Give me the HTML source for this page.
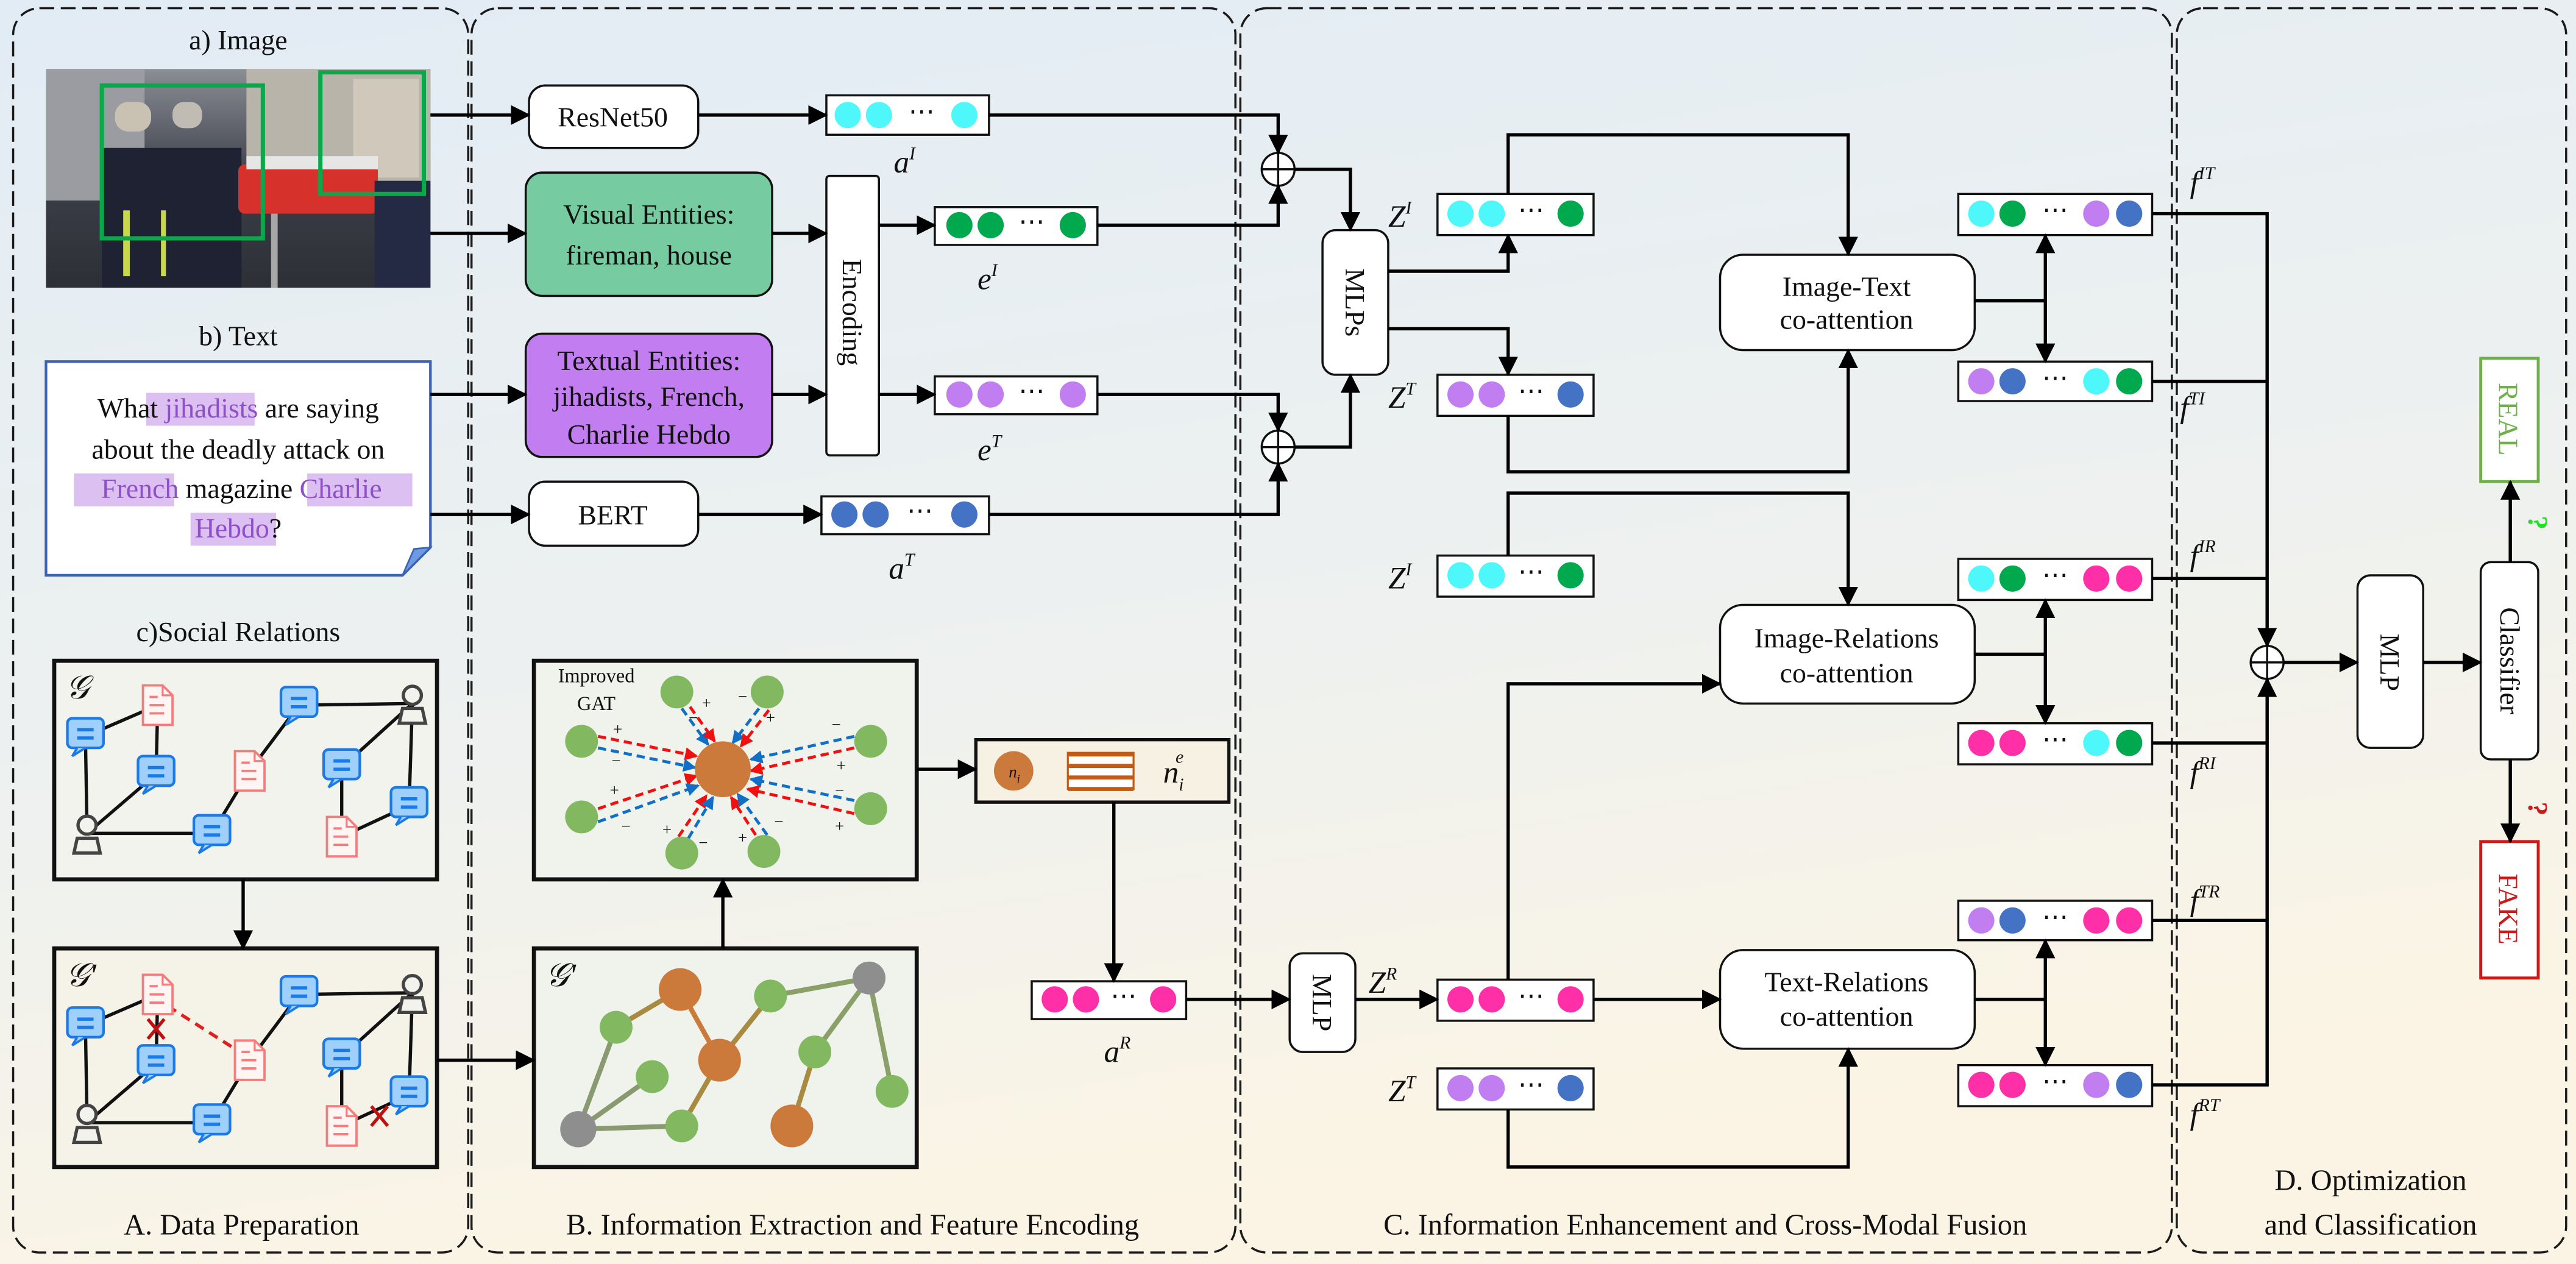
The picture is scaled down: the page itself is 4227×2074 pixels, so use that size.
<!DOCTYPE html>
<html><head><meta charset="utf-8">
<style>
html,body{margin:0;padding:0;background:#fff;}
svg{display:block;font-family:"Liberation Serif",serif;}
text{font-family:"Liberation Serif",serif;fill:#111;}
</style></head>
<body>
<svg width="4227" height="2074" viewBox="0 0 1568 769" preserveAspectRatio="none" xmlns="http://www.w3.org/2000/svg" font-family="Liberation Serif, serif">
<defs>
<linearGradient id="bg" x1="0" y1="0" x2="0.3" y2="1">
<stop offset="0" stop-color="#e2ecf5"/><stop offset="0.6" stop-color="#eef1ef"/><stop offset="1" stop-color="#fbf4e4"/></linearGradient>
<linearGradient id="ph" x1="0" y1="0" x2="0" y2="1">
<stop offset="0" stop-color="#8b8e95"/><stop offset="0.5" stop-color="#3c3f49"/><stop offset="1" stop-color="#2d2f36"/></linearGradient>
<marker id="ah" markerUnits="userSpaceOnUse" markerWidth="12" markerHeight="12" refX="11" refY="6" orient="auto"><path d="M0,0 L12,6 L0,12 z" fill="#000"/></marker>
<marker id="ar" markerUnits="userSpaceOnUse" markerWidth="8" markerHeight="8" refX="7" refY="4" orient="auto"><path d="M0,0 L8,4 L0,8 z" fill="#f01010"/></marker>
<marker id="ab" markerUnits="userSpaceOnUse" markerWidth="8" markerHeight="8" refX="7" refY="4" orient="auto"><path d="M0,0 L8,4 L0,8 z" fill="#1070c8"/></marker>
<symbol id="bub" viewBox="-13 -12 26 26" width="26" height="26" overflow="visible">
<rect x="-11" y="-10" width="22" height="18" rx="3" fill="#9fd0fb" stroke="#1a7ae8" stroke-width="1.6"/>
<line x1="-5" y1="-3" x2="5" y2="-3" stroke="#1a7ae8" stroke-width="2"/>
<line x1="-5" y1="2" x2="5" y2="2" stroke="#1a7ae8" stroke-width="2"/>
<path d="M-5,8 L-8,13 L0,8" fill="#9fd0fb" stroke="#1a7ae8" stroke-width="1.4"/>
</symbol>
<symbol id="doc" viewBox="-13 -13 26 26" width="26" height="26" overflow="visible">
<path d="M-9,-12 H3 L9,-6 V12 H-9 Z" fill="#fff6f4" stroke="#f47c7c" stroke-width="1.4"/>
<path d="M3,-12 V-6 H9" fill="none" stroke="#f47c7c" stroke-width="1.2"/>
<line x1="-5" y1="-5" x2="0" y2="-5" stroke="#f47c7c" stroke-width="1.4"/>
<line x1="-5" y1="0" x2="4" y2="0" stroke="#f47c7c" stroke-width="1.4"/>
<line x1="-5" y1="5" x2="4" y2="5" stroke="#f47c7c" stroke-width="1.4"/>
</symbol>
<symbol id="per" viewBox="-13 -13 26 26" width="26" height="26" overflow="visible">
<circle cx="0" cy="-5" r="5.5" fill="#f3f3ee" stroke="#444" stroke-width="2"/>
<path d="M-8,12 L-6,3 H6 L8,12 Z" fill="#f3f3ee" stroke="#444" stroke-width="2"/>
</symbol>
</defs>

<rect x="0" y="0" width="1568" height="769" fill="url(#bg)"/>

<g fill="none" stroke="#1a1a1a" stroke-width="1.3" stroke-dasharray="9 4">
<rect x="8" y="5" width="277" height="757" rx="16"/>
<rect x="287" y="5" width="465" height="757" rx="16"/>
<rect x="755" y="5" width="567" height="757" rx="16"/>
<rect x="1325" y="5" width="237" height="757" rx="16"/>
</g>
<g font-size="18" text-anchor="middle">
<text x="147" y="751">A. Data Preparation</text>
<text x="519" y="751">B. Information Extraction and Feature Encoding</text>
<text x="1038" y="751">C. Information Enhancement and Cross-Modal Fusion</text>
<text x="1443" y="724">D. Optimization</text>
<text x="1443" y="751">and Classification</text>
</g>

<text x="145" y="30" font-size="17" text-anchor="middle">a) Image</text>
<rect x="28" y="42" width="234" height="133" fill="url(#ph)"/>
<rect x="28" y="42" width="60" height="80" fill="#9a9ca2"/>
<rect x="150" y="42" width="112" height="70" fill="#b8b4aa"/>
<rect x="215" y="48" width="40" height="60" fill="#cfc8bb"/>
<rect x="62" y="90" width="85" height="85" fill="#1f2233"/>
<rect x="70" y="62" width="22" height="18" rx="8" fill="#c9c2b3"/>
<rect x="105" y="62" width="18" height="16" rx="7" fill="#c0bcb3"/>
<rect x="145" y="100" width="85" height="30" rx="4" fill="#d7312c"/>
<rect x="150" y="95" width="80" height="8" fill="#e6e6e6"/>
<rect x="228" y="110" width="34" height="65" fill="#242a44"/>
<rect x="75" y="128" width="4" height="40" fill="#c8d84a"/>
<rect x="98" y="128" width="3" height="40" fill="#c8d84a"/>
<rect x="165" y="130" width="4" height="45" fill="#a7a7a7"/>
<rect x="62" y="52" width="98" height="93" fill="none" stroke="#0aa84a" stroke-width="2.6"/>
<rect x="195" y="44" width="63" height="74" fill="none" stroke="#0aa84a" stroke-width="2.6"/>

<text x="145" y="210" font-size="17" text-anchor="middle">b) Text</text>
<path d="M28,220 H262 V333 L245,350 H28 Z" fill="#fff" stroke="#3a62b5" stroke-width="1.6"/>
<path d="M245,350 L262,333 L252,334 Z" fill="#6e9be0" stroke="#3a62b5" stroke-width="1"/>
<g fill="#dcc0f2">
<rect x="89" y="239" width="66" height="20"/>
<rect x="45" y="288" width="61" height="20"/>
<rect x="187" y="288" width="64" height="20"/>
<rect x="116" y="312" width="52" height="20"/>
</g>
<g font-size="17" text-anchor="middle">
<text x="145" y="254">What <tspan style="fill:#8e50c8">jihadists</tspan> are saying</text>
<text x="145" y="279">about the deadly attack on</text>
<text x="147" y="303"><tspan style="fill:#8e50c8">French</tspan> magazine <tspan style="fill:#8e50c8">Charlie</tspan></text>
<text x="145" y="327"><tspan style="fill:#8e50c8">Hebdo</tspan>?</text>
</g>

<text x="145" y="390" font-size="17" text-anchor="middle">c)Social Relations</text>
<rect x="33" y="402" width="233" height="133" fill="#f2f3ed" stroke="#111" stroke-width="2.5"/>
<rect x="33" y="577" width="233" height="133" fill="#f5f2e8" stroke="#111" stroke-width="2.5"/>
<g stroke="#111" stroke-width="2">
<line x1="52" y1="448" x2="96" y2="429"/><line x1="96" y1="429" x2="95" y2="471"/>
<line x1="52" y1="448" x2="53" y2="507"/><line x1="53" y1="507" x2="95" y2="471"/>
<line x1="53" y1="507" x2="129" y2="507"/><line x1="129" y1="507" x2="152" y2="469"/>
<line x1="152" y1="469" x2="182" y2="429"/><line x1="182" y1="429" x2="251" y2="428"/>
<line x1="251" y1="428" x2="208" y2="467"/><line x1="251" y1="428" x2="249" y2="490"/>
<line x1="208" y1="467" x2="208" y2="509"/><line x1="208" y1="509" x2="249" y2="490"/>
</g>
<g>
<use href="#doc" x="83" y="416"/><use href="#bub" x="39" y="435"/><use href="#bub" x="82" y="458"/>
<use href="#per" x="40" y="494"/><use href="#bub" x="116" y="494"/><use href="#doc" x="139" y="456"/>
<use href="#bub" x="169" y="416"/><use href="#per" x="238" y="415"/><use href="#bub" x="195" y="454"/>
<use href="#bub" x="236" y="477"/><use href="#doc" x="195" y="496"/>
</g>
<text x="40" y="425" font-size="20" font-style="italic">𝒢</text>
<g stroke="#111" stroke-width="2">
<line x1="52" y1="624" x2="96" y2="605"/><line x1="96" y1="605" x2="95" y2="647"/>
<line x1="52" y1="624" x2="53" y2="683"/><line x1="53" y1="683" x2="95" y2="647"/>
<line x1="53" y1="683" x2="129" y2="683"/><line x1="129" y1="683" x2="152" y2="645"/>
<line x1="152" y1="645" x2="182" y2="605"/><line x1="182" y1="605" x2="251" y2="604"/>
<line x1="251" y1="604" x2="208" y2="643"/><line x1="251" y1="604" x2="249" y2="666"/>
<line x1="208" y1="643" x2="208" y2="685"/><line x1="208" y1="685" x2="249" y2="666"/>
</g>
<line x1="102" y1="612" x2="146" y2="640" stroke="#e02020" stroke-width="2" stroke-dasharray="6 4"/>
<g>
<use href="#doc" x="83" y="592"/><use href="#bub" x="39" y="611"/><use href="#bub" x="82" y="634"/>
<use href="#per" x="40" y="670"/><use href="#bub" x="116" y="670"/><use href="#doc" x="139" y="632"/>
<use href="#bub" x="169" y="592"/><use href="#per" x="238" y="591"/><use href="#bub" x="195" y="630"/>
<use href="#bub" x="236" y="653"/><use href="#doc" x="195" y="672"/>
</g>
<g stroke="#c01010" stroke-width="2">
<line x1="90" y1="620" x2="100" y2="632"/><line x1="100" y1="620" x2="90" y2="632"/>
<line x1="226" y1="673" x2="236" y2="685"/><line x1="236" y1="673" x2="226" y2="685"/>
</g>
<text x="40" y="600" font-size="20" font-style="italic">𝒢'</text>

<g stroke="#111" stroke-width="1.3">
<rect x="322" y="52" width="103" height="38" rx="10" fill="#fff"/>
<rect x="320" y="105" width="150" height="75" rx="10" fill="#76cba0"/>
<rect x="503" y="107" width="32" height="170" rx="2" fill="#fff"/>
<rect x="320" y="203" width="150" height="75" rx="10" fill="#c27ef0"/>
<rect x="322" y="293" width="103" height="39" rx="10" fill="#fff"/>
</g>
<g font-size="17" text-anchor="middle">
<text x="373" y="77">ResNet50</text>
<text x="395" y="136">Visual Entities:</text>
<text x="395" y="161">fireman, house</text>
<text x="395" y="225">Textual Entities:</text>
<text x="395" y="247">jihadists, French,</text>
<text x="395" y="270">Charlie Hebdo</text>
<text x="373" y="319">BERT</text>
<text transform="translate(513,190) rotate(90)">Encoding</text>
</g>

<rect x="325" y="402" width="233" height="133" fill="#f0f2ec" stroke="#111" stroke-width="2.5"/>
<text x="363" y="415" font-size="12" text-anchor="middle">Improved</text>
<text x="363" y="432" font-size="12" text-anchor="middle">GAT</text>
<g stroke-width="1.8" stroke-dasharray="5 3" fill="none">
<line x1="364" y1="448" x2="424" y2="460" stroke="#f01010" marker-end="url(#ar)"/>
<line x1="364" y1="455" x2="423" y2="467" stroke="#1070c8" marker-end="url(#ab)"/>
<line x1="520" y1="448" x2="457" y2="462" stroke="#1070c8" marker-end="url(#ab)"/>
<line x1="520" y1="455" x2="457" y2="469" stroke="#f01010" marker-end="url(#ar)"/>
<line x1="364" y1="492" x2="424" y2="472" stroke="#f01010" marker-end="url(#ar)"/>
<line x1="364" y1="500" x2="425" y2="478" stroke="#1070c8" marker-end="url(#ab)"/>
<line x1="520" y1="487" x2="457" y2="474" stroke="#1070c8" marker-end="url(#ab)"/>
<line x1="520" y1="495" x2="455" y2="480" stroke="#f01010" marker-end="url(#ar)"/>
<line x1="415" y1="431" x2="431" y2="453" stroke="#1070c8" marker-end="url(#ab)"/>
<line x1="420" y1="430" x2="435" y2="451" stroke="#f01010" marker-end="url(#ar)"/>
<line x1="462" y1="431" x2="446" y2="452" stroke="#1070c8" marker-end="url(#ab)"/>
<line x1="468" y1="432" x2="451" y2="454" stroke="#f01010" marker-end="url(#ar)"/>
<line x1="413" y1="509" x2="430" y2="484" stroke="#f01010" marker-end="url(#ar)"/>
<line x1="419" y1="510" x2="434" y2="485" stroke="#1070c8" marker-end="url(#ab)"/>
<line x1="460" y1="508" x2="445" y2="485" stroke="#f01010" marker-end="url(#ar)"/>
<line x1="467" y1="508" x2="449" y2="483" stroke="#1070c8" marker-end="url(#ab)"/>
</g>
<g fill="#82b860">
<circle cx="412" cy="421" r="10"/><circle cx="467" cy="421" r="10"/>
<circle cx="354" cy="451" r="10"/><circle cx="530" cy="451" r="10"/>
<circle cx="354" cy="497" r="10"/><circle cx="530" cy="492" r="10"/>
<circle cx="415" cy="519" r="10"/><circle cx="465" cy="518" r="10"/>
</g>
<circle cx="440" cy="468" r="17" fill="#cc7a3c"/>
<g font-size="10" text-anchor="middle">
<text x="376" y="447">+</text><text x="375" y="466">−</text>
<text x="509" y="444">−</text><text x="512" y="469">+</text>
<text x="374" y="484">+</text><text x="381" y="506">−</text>
<text x="511" y="484">−</text><text x="511" y="506">+</text>
<text x="430" y="431">+</text><text x="422" y="440">−</text>
<text x="452" y="427">−</text><text x="469" y="440">+</text>
<text x="406" y="508">+</text><text x="428" y="516">−</text>
<text x="452" y="513">+</text><text x="474" y="503">−</text>
</g>

<rect x="325" y="577" width="233" height="133" fill="#f0f2ec" stroke="#111" stroke-width="2.5"/>
<text x="332" y="600" font-size="20" font-style="italic">𝒢'</text>
<g stroke-width="3">
<line x1="352" y1="687" x2="375" y2="625" stroke="#8a9a70"/>
<line x1="352" y1="687" x2="397" y2="655" stroke="#8a9a70"/>
<line x1="352" y1="687" x2="415" y2="685" stroke="#8a9a70"/>
<line x1="375" y1="625" x2="414" y2="602" stroke="#a88a40"/>
<line x1="414" y1="602" x2="438" y2="645" stroke="#cc7a3c"/>
<line x1="438" y1="645" x2="469" y2="606" stroke="#a88a40"/>
<line x1="469" y1="606" x2="529" y2="595" stroke="#8aa068"/>
<line x1="438" y1="645" x2="415" y2="685" stroke="#a88a40"/>
<line x1="529" y1="595" x2="496" y2="640" stroke="#8aa068"/>
<line x1="496" y1="640" x2="482" y2="685" stroke="#a88a40"/>
<line x1="529" y1="595" x2="543" y2="664" stroke="#8aa068"/>
</g>
<g fill="#82b860">
<circle cx="375" cy="625" r="10"/><circle cx="469" cy="606" r="10"/><circle cx="496" cy="640" r="10"/>
<circle cx="397" cy="655" r="10"/><circle cx="543" cy="664" r="10"/><circle cx="415" cy="685" r="10"/>
</g>
<g fill="#cc7a3c"><circle cx="414" cy="602" r="13"/><circle cx="438" cy="645" r="13"/><circle cx="482" cy="685" r="13"/></g>
<g fill="#8e8e8e"><circle cx="529" cy="595" r="10"/><circle cx="352" cy="687" r="11"/></g>

<rect x="594" y="450" width="154" height="38" fill="#f7f1e4" stroke="#111" stroke-width="2"/>
<circle cx="617" cy="469" r="12" fill="#cc7a3c"/>
<text x="614" y="473" font-size="10" font-style="italic">n<tspan font-size="7" dy="3">i</tspan></text>
<rect x="650" y="458" width="40" height="22" fill="#fff" stroke="#c25b14" stroke-width="1.2"/>
<g stroke="#c25b14" stroke-width="2.5"><line x1="650" y1="459" x2="690" y2="459"/><line x1="650" y1="466" x2="690" y2="466"/><line x1="650" y1="473" x2="690" y2="473"/><line x1="650" y1="480" x2="690" y2="480"/></g>
<text x="708" y="476" font-size="19" font-style="italic">n<tspan font-size="11" dy="5">i</tspan><tspan font-size="11" dx="-5" dy="-17">e</tspan></text>

<g stroke="#111" stroke-width="1.3" fill="#fff">
<rect x="503" y="58" width="99" height="24"/>
<rect x="569" y="126" width="99" height="23"/>
<rect x="569" y="229" width="99" height="23"/>
<rect x="500" y="302" width="102" height="23"/>
<rect x="628" y="597" width="94" height="23"/>
<rect x="875" y="118" width="95" height="25"/>
<rect x="875" y="228" width="95" height="25"/>
<rect x="875" y="338" width="95" height="25"/>
<rect x="875" y="596" width="95" height="25"/>
<rect x="875" y="650" width="95" height="25"/>
<rect x="1192" y="118" width="118" height="25"/>
<rect x="1192" y="220" width="118" height="24"/>
<rect x="1192" y="340" width="118" height="25"/>
<rect x="1192" y="440" width="118" height="25"/>
<rect x="1192" y="548" width="118" height="24"/>
<rect x="1192" y="648" width="118" height="25"/>
</g>
<g>
<circle cx="516" cy="70" r="8" fill="#4ef8fa"/><circle cx="535" cy="70" r="8" fill="#4ef8fa"/><circle cx="587" cy="70" r="8" fill="#4ef8fa"/>
<circle cx="584" cy="137" r="8" fill="#00a84e"/><circle cx="603" cy="137" r="8" fill="#00a84e"/><circle cx="653" cy="137" r="8" fill="#00a84e"/>
<circle cx="584" cy="240" r="8" fill="#c07ef0"/><circle cx="603" cy="240" r="8" fill="#c07ef0"/><circle cx="653" cy="240" r="8" fill="#c07ef0"/>
<circle cx="514" cy="313" r="8" fill="#4472c4"/><circle cx="533" cy="313" r="8" fill="#4472c4"/><circle cx="587" cy="313" r="8" fill="#4472c4"/>
<circle cx="642" cy="608" r="8" fill="#ff2fa8"/><circle cx="661" cy="608" r="8" fill="#ff2fa8"/><circle cx="708" cy="608" r="8" fill="#ff2fa8"/>
<circle cx="889" cy="130" r="8" fill="#4ef8fa"/><circle cx="908" cy="130" r="8" fill="#4ef8fa"/><circle cx="956" cy="130" r="8" fill="#00a84e"/>
<circle cx="889" cy="240" r="8" fill="#c07ef0"/><circle cx="908" cy="240" r="8" fill="#c07ef0"/><circle cx="956" cy="240" r="8" fill="#4472c4"/>
<circle cx="889" cy="350" r="8" fill="#4ef8fa"/><circle cx="908" cy="350" r="8" fill="#4ef8fa"/><circle cx="956" cy="350" r="8" fill="#00a84e"/>
<circle cx="889" cy="608" r="8" fill="#ff2fa8"/><circle cx="908" cy="608" r="8" fill="#ff2fa8"/><circle cx="956" cy="608" r="8" fill="#ff2fa8"/>
<circle cx="889" cy="662" r="8" fill="#c07ef0"/><circle cx="908" cy="662" r="8" fill="#c07ef0"/><circle cx="956" cy="662" r="8" fill="#4472c4"/>
<circle cx="1206" cy="130" r="8" fill="#4ef8fa"/><circle cx="1225" cy="130" r="8" fill="#00a84e"/><circle cx="1276" cy="130" r="8" fill="#c07ef0"/><circle cx="1296" cy="130" r="8" fill="#4472c4"/>
<circle cx="1206" cy="232" r="8" fill="#c07ef0"/><circle cx="1225" cy="232" r="8" fill="#4472c4"/><circle cx="1276" cy="232" r="8" fill="#4ef8fa"/><circle cx="1296" cy="232" r="8" fill="#00a84e"/>
<circle cx="1206" cy="352" r="8" fill="#4ef8fa"/><circle cx="1225" cy="352" r="8" fill="#00a84e"/><circle cx="1276" cy="352" r="8" fill="#ff2fa8"/><circle cx="1296" cy="352" r="8" fill="#ff2fa8"/>
<circle cx="1206" cy="452" r="8" fill="#ff2fa8"/><circle cx="1225" cy="452" r="8" fill="#ff2fa8"/><circle cx="1276" cy="452" r="8" fill="#4ef8fa"/><circle cx="1296" cy="452" r="8" fill="#00a84e"/>
<circle cx="1206" cy="560" r="8" fill="#c07ef0"/><circle cx="1225" cy="560" r="8" fill="#4472c4"/><circle cx="1276" cy="560" r="8" fill="#ff2fa8"/><circle cx="1296" cy="560" r="8" fill="#ff2fa8"/>
<circle cx="1206" cy="660" r="8" fill="#ff2fa8"/><circle cx="1225" cy="660" r="8" fill="#ff2fa8"/><circle cx="1276" cy="660" r="8" fill="#c07ef0"/><circle cx="1296" cy="660" r="8" fill="#4472c4"/>
</g>
<g font-size="16" text-anchor="middle">
<text x="561" y="73">⋯</text><text x="628" y="140">⋯</text><text x="628" y="243">⋯</text><text x="560" y="316">⋯</text><text x="684" y="611">⋯</text>
<text x="932" y="133">⋯</text><text x="932" y="243">⋯</text><text x="932" y="353">⋯</text><text x="932" y="611">⋯</text><text x="932" y="665">⋯</text>
<text x="1251" y="133">⋯</text><text x="1251" y="235">⋯</text><text x="1251" y="355">⋯</text><text x="1251" y="455">⋯</text><text x="1251" y="563">⋯</text><text x="1251" y="663">⋯</text>
</g>

<g font-size="19" font-style="italic">
<text x="544" y="105">a<tspan font-size="11" dy="-8">I</tspan></text>
<text x="595" y="176">e<tspan font-size="11" dy="-8">I</tspan></text>
<text x="595" y="280">e<tspan font-size="11" dy="-8">T</tspan></text>
<text x="541" y="352">a<tspan font-size="11" dy="-8">T</tspan></text>
<text x="672" y="646">a<tspan font-size="11" dy="-8">R</tspan></text>
<text x="845" y="138">Z<tspan font-size="11" dy="-8">I</tspan></text>
<text x="845" y="248">Z<tspan font-size="11" dy="-8">T</tspan></text>
<text x="845" y="358">Z<tspan font-size="11" dy="-8">I</tspan></text>
<text x="833" y="604">Z<tspan font-size="11" dy="-8">R</tspan></text>
<text x="845" y="670">Z<tspan font-size="11" dy="-8">T</tspan></text>
<text x="1333" y="117">f<tspan font-size="11" dy="-8">IT</tspan></text>
<text x="1327" y="254">f<tspan font-size="11" dy="-8">TI</tspan></text>
<text x="1333" y="344">f<tspan font-size="11" dy="-8">IR</tspan></text>
<text x="1333" y="476">f<tspan font-size="11" dy="-8">RI</tspan></text>
<text x="1333" y="554">f<tspan font-size="11" dy="-8">TR</tspan></text>
<text x="1333" y="684">f<tspan font-size="11" dy="-8">RT</tspan></text>
</g>

<g stroke="#111" stroke-width="1.3" fill="#fff">
<rect x="805" y="140" width="40" height="88" rx="8"/>
<rect x="785" y="580" width="40" height="60" rx="8"/>
<rect x="1047" y="155" width="155" height="58" rx="14"/>
<rect x="1047" y="368" width="155" height="60" rx="14"/>
<rect x="1047" y="578" width="155" height="60" rx="14"/>
<rect x="1435" y="350" width="40" height="105" rx="8"/>
<rect x="1510" y="342" width="35" height="120" rx="6"/>
</g>
<rect x="1510" y="218" width="35" height="75" fill="#fff" stroke="#6fb04a" stroke-width="1.8"/>
<rect x="1510" y="512" width="35" height="83" fill="#fff" stroke="#d01818" stroke-width="1.8"/>
<g font-size="17" text-anchor="middle">
<text transform="translate(819,184) rotate(90)">MLPs</text>
<text transform="translate(799,610) rotate(90)">MLP</text>
<text transform="translate(1449,403) rotate(90)">MLP</text>
<text transform="translate(1522,402) rotate(90)">Classifier</text>
<text transform="translate(1521,255) rotate(90)" style="fill:#6fb04a">REAL</text>
<text transform="translate(1521,553) rotate(90)" style="fill:#d01818">FAKE</text>
<text x="1124" y="180">Image-Text</text><text x="1124" y="200">co-attention</text>
<text x="1124" y="394">Image-Relations</text><text x="1124" y="415">co-attention</text>
<text x="1124" y="603">Text-Relations</text><text x="1124" y="624">co-attention</text>
</g>
<text font-size="17" font-weight="bold" style="fill:#22e022" text-anchor="middle" transform="translate(1539,318) rotate(90)">?</text>
<text font-size="17" font-weight="bold" style="fill:#d01818" text-anchor="middle" transform="translate(1539,492) rotate(90)">?</text>

<g fill="#fff" stroke="#111" stroke-width="1.3">
<circle cx="778" cy="103" r="10"/><circle cx="778" cy="272" r="10"/><circle cx="1380" cy="403" r="10"/>
</g>
<g stroke="#111" stroke-width="1.3">
<line x1="768" y1="103" x2="788" y2="103"/><line x1="778" y1="93" x2="778" y2="113"/>
<line x1="768" y1="272" x2="788" y2="272"/><line x1="778" y1="262" x2="778" y2="282"/>
<line x1="1370" y1="403" x2="1390" y2="403"/><line x1="1380" y1="393" x2="1380" y2="413"/>
</g>

<g fill="none" stroke="#000" stroke-width="2" marker-end="url(#ah)">
<path d="M262,70 H322"/><path d="M262,142 H320"/><path d="M425,70 H503"/>
<path d="M470,142 H503"/><path d="M470,240 H503"/><path d="M535,137 H569"/><path d="M535,240 H569"/>
<path d="M262,240 H320"/><path d="M262,313 H322"/><path d="M425,313 H500"/>
<path d="M602,70 H778 V93"/><path d="M668,137 H778 V113"/><path d="M668,240 H778 V262"/><path d="M602,313 H778 V282"/>
<path d="M788,103 H822 V140"/><path d="M788,272 H822 V228"/>
<path d="M845,165 H918 V143"/><path d="M845,200 H918 V228"/>
<path d="M918,118 V82 H1125 V155"/><path d="M918,253 V287 H1125 V213"/>
<path d="M918,338 V300 H1125 V368"/><path d="M918,596 V416 H1047"/><path d="M970,608 H1047"/>
<path d="M918,675 V710 H1125 V638"/>
<path d="M825,608 H875"/><path d="M722,608 H785"/><path d="M678,488 V597"/>
<path d="M558,468 H594"/><path d="M440,577 V535"/><path d="M148,535 V577"/><path d="M266,645 H325"/>
<path d="M1310,130 H1380 V393"/><path d="M1310,660 H1380 V413"/>
<path d="M1390,403 H1435"/><path d="M1475,403 H1510"/>
<path d="M1528,342 V293"/><path d="M1528,462 V512"/>
</g>
<g fill="none" stroke="#000" stroke-width="2">
<path d="M1310,232 H1380"/><path d="M1310,352 H1380"/><path d="M1310,452 H1380"/><path d="M1310,560 H1380"/>
<path d="M1202,183 H1245"/><path d="M1202,398 H1245"/><path d="M1202,608 H1245"/>
<path d="M1245,183 V143" marker-end="url(#ah)"/><path d="M1245,183 V220" marker-end="url(#ah)"/>
<path d="M1245,398 V365" marker-end="url(#ah)"/><path d="M1245,398 V440" marker-end="url(#ah)"/>
<path d="M1245,608 V572" marker-end="url(#ah)"/><path d="M1245,608 V648" marker-end="url(#ah)"/>
</g>
</svg>
</body></html>
